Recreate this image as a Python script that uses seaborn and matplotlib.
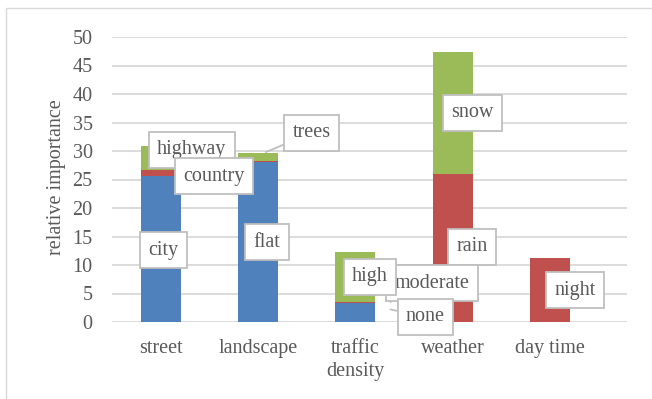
import matplotlib
matplotlib.use("Agg")
import matplotlib.pyplot as plt
from matplotlib.patches import Rectangle
import seaborn as sns
import pandas as pd

categories = ["street", "landscape", "traffic\ndensity", "weather", "day time"]
layer1 = [25.6, 28.1, 3.3, 0.0, 0.0]      # blue: city, flat, none
layer2 = [1.1, 0.1, 0.2, 26.0, 11.2]      # red: country, -, moderate, rain, night
layer3 = [4.2, 1.5, 8.8, 21.4, 0.0]       # green: highway, trees, high, snow
yticks = [0, 5, 10, 15, 20, 25, 30, 35, 40, 45, 50]
ylabel = "relative importance"

# data labels: text, (x, y) in data coordinates, optional arrow target
labels = [
    ("highway", (0.32, 30.2), None),
    ("country", (0.55, 25.6), None),
    ("city", (0.03, 12.6), None),
    ("flat", (1.09, 14.0), None),
    ("trees", (1.55, 33.2), (1.08, 29.8)),
    ("snow", (3.2, 36.7), None),
    ("rain", (3.2, 13.2), None),
    ("moderate", (2.79, 6.8), (2.36, 3.5)),
    ("none", (2.72, 0.9), (2.36, 2.2)),
    ("high", (2.15, 7.9), None),
    ("night", (4.26, 5.6), None),
]

sns.set_style("white")
plt.rcParams["font.family"] = ["Liberation Serif", "DejaVu Serif"]
text_color = "#595959"
grid_color = "#D9D9D9"
colors = ["#4F81BD", "#C0504D", "#9BBB59"]
fs = 14.5

fig = plt.figure(figsize=(6.52, 3.99), dpi=100)
ax = fig.add_axes([112/652, 1 - 322/399, (627 - 112)/652, (322 - 37)/399])

df = pd.DataFrame({"cat": categories, "l1": layer1, "l2": layer2, "l3": layer3})
bottom2 = [a for a in layer1]
bottom3 = [a + b for a, b in zip(layer1, layer2)]
common = dict(width=0.41, ax=ax, saturation=1, zorder=2, linewidth=0, edgecolor="none")
sns.barplot(data=df, x="cat", y="l1", color=colors[0], **common)
sns.barplot(data=df, x="cat", y="l2", bottom=bottom2, color=colors[1], **common)
sns.barplot(data=df, x="cat", y="l3", bottom=bottom3, color=colors[2], **common)

ax.set_xlim(-0.5, 4.79)
ax.set_ylim(0, 50)
ax.set_yticks(yticks)
ax.set_yticklabels([str(t) for t in yticks])
for s in ax.spines.values():
    s.set_visible(False)
ax.grid(axis="y", color=grid_color, linewidth=1.3, zorder=0)
ax.set_axisbelow(True)
ax.tick_params(axis="both", length=0, labelsize=fs, colors=text_color)
ax.tick_params(axis="y", pad=14)
ax.tick_params(axis="x", pad=12)
for lab in ax.get_xticklabels():
    lab.set_linespacing(1.3)
    lab.set_verticalalignment("top")
ax.set_xlabel("")
ax.set_ylabel(ylabel, fontsize=fs, color=text_color)
ax.yaxis.set_label_coords(-0.09, 0.51)

for i, (txt, (x, y), target) in enumerate(labels):
    bbox = dict(boxstyle="square,pad=0.42", fc="white", ec="#BFBFBF", lw=1.3)
    z = 5 + i * 0.1
    if target is None:
        ax.text(x, y, txt, ha="center", va="center", fontsize=fs, color=text_color,
                bbox=bbox, zorder=z)
    else:
        ax.annotate(txt, xy=target, xytext=(x, y), ha="center", va="center",
                    fontsize=fs, color=text_color, bbox=bbox, zorder=z,
                    arrowprops=dict(arrowstyle="-", color="#BFBFBF", lw=1.3,
                                    shrinkA=0, shrinkB=0))

fig.patches.append(Rectangle((6/652, -0.1), 1.2, 1 - 8/399 + 0.1,
                             transform=fig.transFigure, fill=False,
                             ec=grid_color, lw=1.0))

fig.savefig("out.png", dpi=100, facecolor="white")
